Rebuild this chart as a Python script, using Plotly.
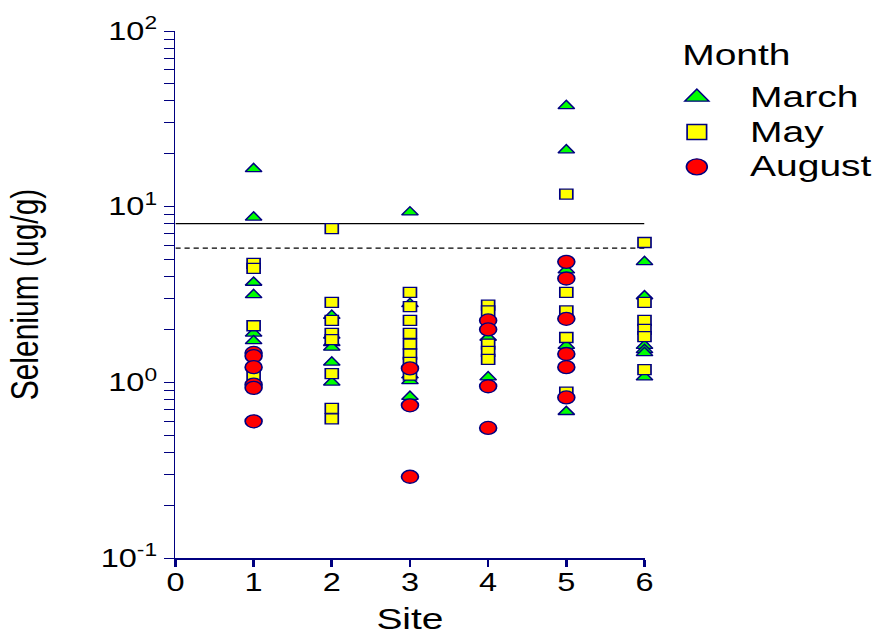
import plotly.graph_objects as go

# ---------------- data ----------------
months = ["March", "May", "August"]

march_site = [1, 1, 1, 1, 1, 1,
              2, 2, 2, 2, 2, 2,
              3, 3, 3, 3, 3,
              4, 4,
              5, 5, 5, 5, 5,
              6, 6, 6, 6, 6, 6]
march_se = [16.4, 8.7, 3.7, 3.15, 1.9, 1.72,
            2.4, 1.85, 1.68, 1.58, 1.3, 1.0,
            9.3, 2.8, 1.1, 1.02, 0.83,
            1.8, 1.07,
            37.5, 21.0, 4.35, 1.62, 0.68,
            4.85, 3.1, 1.62, 1.53, 1.47, 1.07]

may_site = [1, 1, 1, 1,
            2, 2, 2, 2, 2, 2, 2, 2,
            3, 3, 3, 3, 3, 3, 3, 3,
            4, 4, 4, 4, 4,
            5, 5, 5, 5, 5,
            6, 6, 6, 6, 6, 6]
may_se = [4.75, 4.45, 2.1, 1.1,
          7.5, 2.85, 2.25, 1.9, 1.75, 1.12, 0.71, 0.62,
          3.25, 2.7, 2.25, 1.9, 1.65, 1.45, 1.3, 1.1,
          2.75, 2.55, 1.65, 1.5, 1.35,
          11.8, 3.25, 2.55, 1.8, 0.88,
          6.25, 2.85, 2.25, 2.0, 1.82, 1.18]

august_site = [1, 1, 1, 1, 1, 1,
               3, 3, 3,
               4, 4, 4, 4,
               5, 5, 5, 5, 5, 5]
august_se = [1.47, 1.41, 1.22, 0.97, 0.93, 0.60,
             1.2, 0.74, 0.29,
             2.25, 2.0, 0.95, 0.55,
             4.85, 3.9, 2.3, 1.45, 1.22, 0.82]

site_ticks = [0, 1, 2, 3, 4, 5, 6]
y_tickvals = [0.1, 1, 10, 100]
y_ticktext = ["10<sup>-1</sup>", "10<sup>0</sup>", "10<sup>1</sup>", "10<sup>2</sup>"]
y_minor = [m * 10.0 ** e for e in (-1, 0, 1) for m in range(2, 10)]

limit_x = [0, 6]
solid_limit = 8.0
dashed_limit = 5.8

# ---------------- styling ----------------
NAVY = "#000080"
FONT = "Liberation Sans, Arial, sans-serif"
STRETCH = 881 / 678.0

styles = {
    "March": dict(symbol="triangle-up", color="#00FF00", size=11, legsize=16),
    "May": dict(symbol="square", color="#FFFF00", size=10, legsize=15),
    "August": dict(symbol="circle", color="#FF0000", size=13, legsize=16),
}
series = {
    "March": (march_site, march_se),
    "May": (may_site, may_se),
    "August": (august_site, august_se),
}

fig = go.Figure()

# limit lines
fig.add_trace(go.Scatter(x=limit_x, y=[solid_limit] * 2, mode="lines",
                         line=dict(color="black", width=1.3), showlegend=False,
                         hoverinfo="skip"))
fig.add_trace(go.Scatter(x=limit_x, y=[dashed_limit] * 2, mode="lines",
                         line=dict(color="black", width=1.3, dash="4px,3px"),
                         showlegend=False, hoverinfo="skip"))

for m in months:
    xs, ys = series[m]
    st = styles[m]
    fig.add_trace(go.Scatter(
        x=xs, y=ys, mode="markers", name=m, showlegend=False, cliponaxis=False,
        marker=dict(symbol=st["symbol"], color=st["color"], size=st["size"],
                    line=dict(color=NAVY, width=1.3)),
    ))

# legend entries (bigger symbols, like the reference)
for m in months:
    st = styles[m]
    fig.add_trace(go.Scatter(
        x=[None], y=[None], mode="markers",
        name='<span style="font-size:30px">%s</span>' % m, showlegend=True,
        marker=dict(symbol=st["symbol"], color=st["color"], size=st["legsize"],
                    line=dict(color=NAVY, width=1.3)),
    ))

fig.update_layout(
    width=678, height=635,
    margin=dict(l=135, r=182, t=31, b=77, autoexpand=False),
    paper_bgcolor="white", plot_bgcolor="white",
    font=dict(family=FONT, color="black", size=25),
    legend=dict(
        font=dict(size=24.5, family=FONT),
        x=0.998, xanchor="left", y=0.917, yanchor="top",
        itemwidth=72, bgcolor="rgba(0,0,0,0)", borderwidth=0,
        traceorder="normal",
    ),
    annotations=[dict(
        text="Month", xref="paper", yref="paper", x=1.075, y=0.956,
        xanchor="left", yanchor="middle", showarrow=False,
        font=dict(size=30, family=FONT, color="black"),
    )],
    xaxis=dict(
        range=[0, 6], tickvals=site_ticks, showgrid=False, zeroline=False,
        showline=True, linecolor=NAVY, linewidth=1.5, automargin=False,
        ticks="outside", ticklen=7, tickwidth=1.5, tickcolor=NAVY,
        ticklabelstandoff=-6,
        tickfont=dict(size=25, family=FONT),
        title=dict(text="Site", font=dict(size=30, family=FONT), standoff=15),
    ),
    yaxis=dict(
        type="log", range=[-1, 2], tickvals=y_tickvals, ticktext=y_ticktext,
        showgrid=False, zeroline=False, automargin=False,
        showline=True, linecolor=NAVY, linewidth=1.3,
        ticks="outside", ticklen=8, tickwidth=1.3, tickcolor=NAVY,
        minor=dict(tickmode="array", tickvals=y_minor, ticks="outside",
                   ticklen=8, tickwidth=1.3, tickcolor=NAVY, showgrid=False),
        tickfont=dict(size=25, family=FONT),
        title=dict(text="Selenium (ug/g)", font=dict(size=30, family=FONT), standoff=38),
    ),
)

post = (
    "document.body.style.margin='0';"
    "var gd=document.getElementById('{plot_id}');"
    "gd.style.transformOrigin='0 0';"
    "gd.style.transform='scaleX(%.5f)';" % STRETCH
)
fig.write_html("out.html", post_script=post)
